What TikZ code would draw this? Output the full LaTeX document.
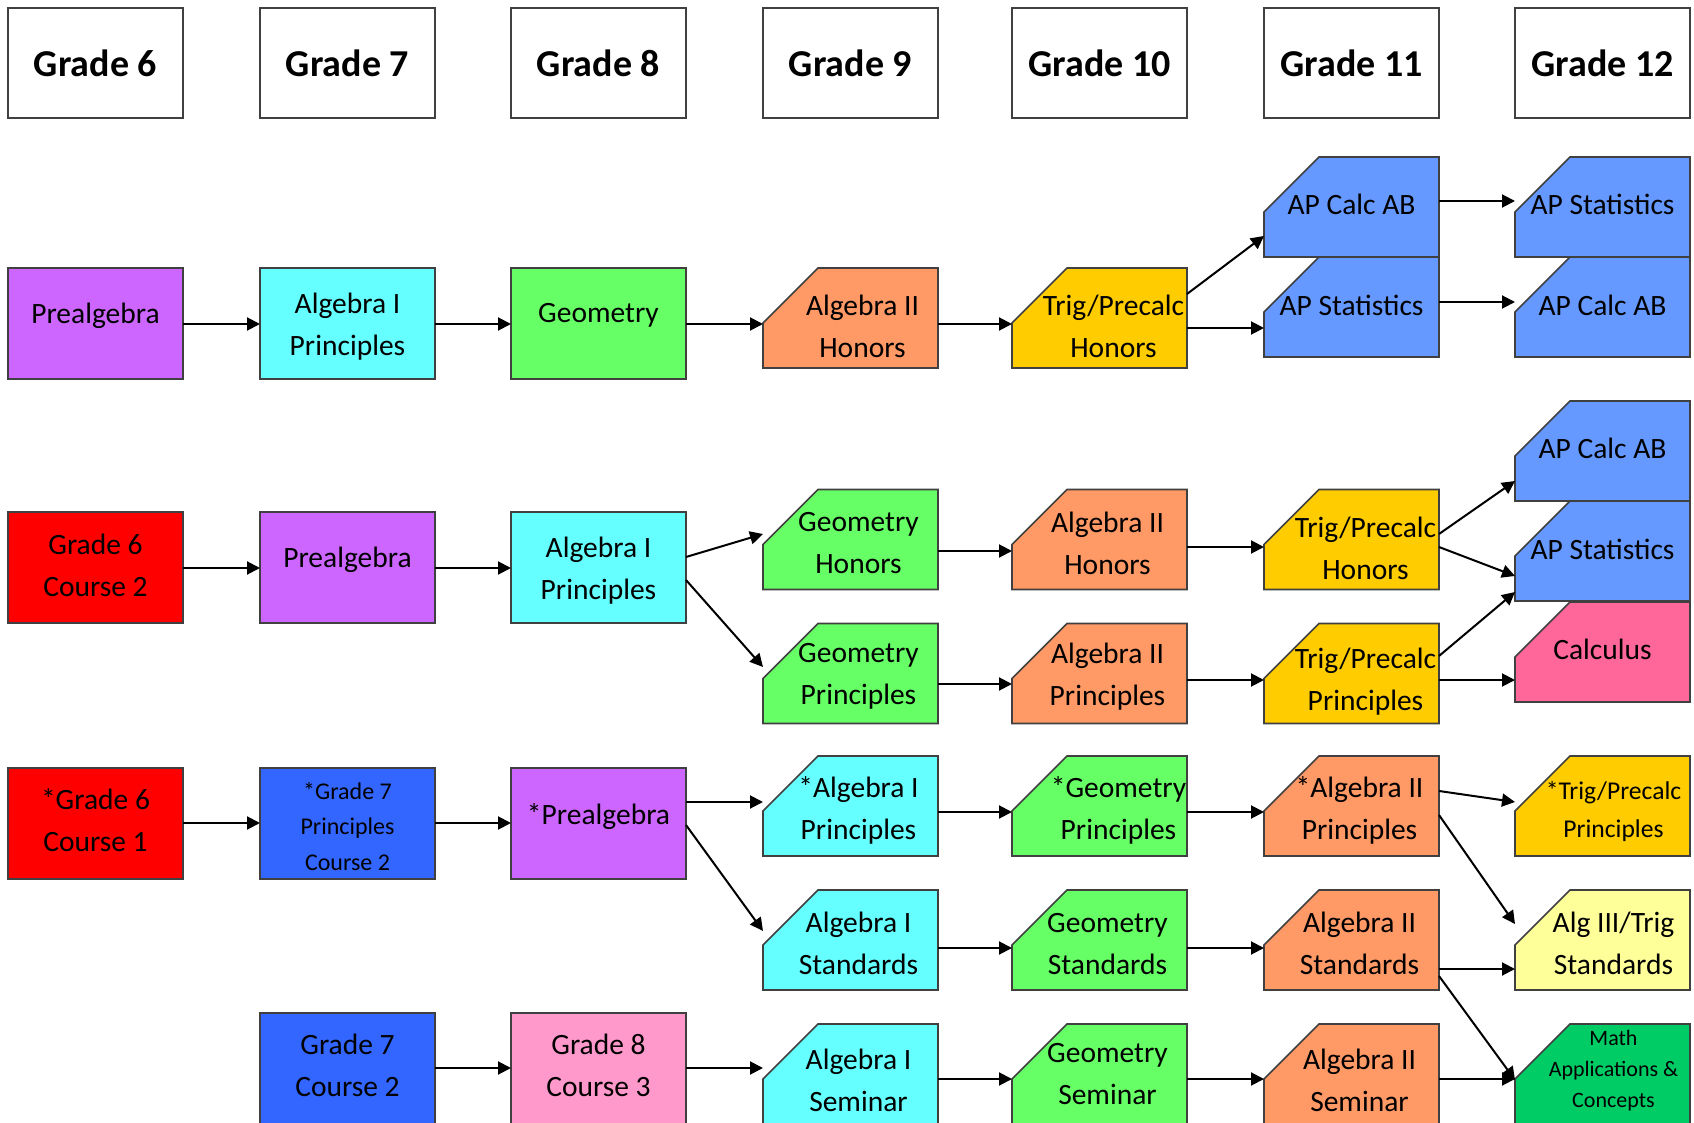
\documentclass[tikz,border=0pt]{standalone}
\usepackage{fontspec}
\setmainfont{Carlito}
\usetikzlibrary{arrows.meta,calc}
\definecolor{cPurple}{HTML}{CC66FF}
\definecolor{cCyan}{HTML}{66FFFF}
\definecolor{cGreen}{HTML}{66FF66}
\definecolor{cOrange}{HTML}{FF9966}
\definecolor{cYellow}{HTML}{FFCC00}
\definecolor{cAP}{HTML}{6699FF}
\definecolor{cRed}{HTML}{FF0000}
\definecolor{cBlue}{HTML}{3366FF}
\definecolor{cPink}{HTML}{FF6699}
\definecolor{cLtPink}{HTML}{FF99CC}
\definecolor{cLtYellow}{HTML}{FFFF99}
\definecolor{cMathGreen}{HTML}{00CC66}
\definecolor{cEdge}{HTML}{404040}
\tikzset{
  bxline/.style={draw=cEdge, line width=0.8pt},
  hdr/.style={rectangle, bxline, fill=white, anchor=north west, minimum width=87.5pt, minimum height=55pt, inner sep=0pt, outer sep=0pt, font=\fontsize{19pt}{23pt}\bfseries\selectfont},
  rbox/.style={rectangle, bxline, anchor=north west, minimum width=87.5pt, inner sep=0pt, outer sep=0pt},
  sbox/.style={rectangle, draw=none, anchor=north west, minimum width=87.5pt, minimum height=50pt, inner sep=0pt, outer sep=0pt},
  txt/.style={align=center, inner sep=0pt, font=\fontsize{14.75pt}{21pt}\selectfont},
  gsmall/.style={font=\fontsize{12pt}{17.8pt}\selectfont},
  trigsmall/.style={font=\fontsize{12.8pt}{19pt}\selectfont},
  macsmall/.style={font=\fontsize{11pt}{15.7pt}\selectfont},
  arr/.style={draw=black, line width=1pt, -{Triangle[length=6.5pt,width=6.5pt]}}
}
% [text style] name, x, y, height, colour, text y, text
\newcommand\rectbox[8][]{%
  \node[rbox, fill=#6, minimum height=#5] (#2) at (#3,#4) {};
  \node[txt,#1] (#2-t) at (#3+87.5,#7) {#8};}
% [text style] name, x, y, colour, text dx, text y, text
\newcommand\snipbox[8][]{%
  \node[sbox] (#2) at (#3,#4) {};
  \filldraw[bxline, fill=#5] (#2.north west) ++(0,55) -- ++(55,-55) -- (#2.north east) -- (#2.south east) -- (#2.south west) -- cycle;
  \node[txt,#1] (#2-t) at (#3+87.5+#6,#7) {#8};}
\begin{document}
\begin{tikzpicture}[x=0.5pt,y=-0.5pt]
\useasboundingbox (0,0) rectangle (1694,1123);
\fill[white] (0,0) rectangle (1694,1123);
\clip (0,0) rectangle (1694,1123);
% headers
\node[hdr] (h6) at (8,8) {Grade 6};
\node[hdr] (h7) at (260,8) {Grade 7};
\node[hdr] (h8) at (511,8) {Grade 8};
\node[hdr] (h9) at (763,8) {Grade 9};
\node[hdr] (h10) at (1012,8) {Grade 10};
\node[hdr] (h11) at (1264,8) {Grade 11};
\node[hdr] (h12) at (1515,8) {Grade 12};
% row A
\rectbox{preA}{8}{268}{55.5pt}{cPurple}{315.5}{Prealgebra}
\rectbox{algA}{260}{268}{55.5pt}{cCyan}{326.8}{Algebra I\\Principles}
\rectbox{geoA}{511}{268}{55.5pt}{cGreen}{315.5}{Geometry}
\snipbox{alg2hA}{763}{268}{cOrange}{12}{326.8}{Algebra II\\Honors}
\snipbox{trigA}{1012}{268}{cYellow}{14}{326.8}{Trig/Precalc\\Honors}
\snipbox{apcA6}{1264}{157}{cAP}{0}{204.2}{AP Calc AB}
\snipbox{apsA6}{1264}{257}{cAP}{0}{305.8}{AP Statistics}
\snipbox{apsA7}{1515}{157}{cAP}{0}{204.2}{AP Statistics}
\snipbox{apcA7}{1515}{257}{cAP}{0}{305.8}{AP Calc AB}
% row B
\rectbox{g6c2}{8}{512}{55.5pt}{cRed}{565}{Grade 6\\Course 2}
\rectbox{preB}{260}{512}{55.5pt}{cPurple}{559.7}{Prealgebra}
\rectbox{algB}{511}{512}{55.5pt}{cCyan}{571}{Algebra I\\Principles}
\snipbox{geohB}{763}{489.5}{cGreen}{8}{542.9}{Geometry\\Honors}
\snipbox{alg2hB}{1012}{489.5}{cOrange}{8}{542.9}{Algebra II\\Honors}
\snipbox{trighB}{1264}{489.5}{cYellow}{14}{548.8}{Trig/Precalc\\Honors}
\snipbox{apcB7}{1515}{401}{cAP}{0}{448.4}{AP Calc AB}
\snipbox{apsB7}{1515}{501}{cAP}{0}{549.9}{AP Statistics}
\snipbox{calc}{1515}{602}{cPink}{0}{649.3}{Calculus}
\snipbox{geopB}{763}{623.5}{cGreen}{8}{676.3}{Geometry\\Principles}
\snipbox{alg2pB}{1012}{623.5}{cOrange}{8}{676.3}{Algebra II\\Principles}
\snipbox{trigpB}{1264}{623.5}{cYellow}{14}{681.7}{Trig/Precalc\\Principles}
% row C
\rectbox{g6c1}{8}{768}{55.5pt}{cRed}{820}{*Grade 6\\Course 1}
\rectbox[gsmall]{g7p}{260}{768}{55.5pt}{cBlue}{826.5}{*Grade 7\\Principles\\Course 2}
\rectbox{preC}{511}{768}{55.5pt}{cPurple}{816.8}{*Prealgebra}
\snipbox{alg1pC}{763}{756}{cCyan}{8}{810.3}{*Algebra I\\Principles}
\snipbox{geopC}{1012}{756}{cGreen}{19}{810.3}{*Geometry\\Principles}
\snipbox{alg2pC}{1264}{756}{cOrange}{8}{810.3}{*Algebra II\\Principles}
\snipbox[trigsmall]{trigpC}{1515}{756}{cYellow}{11}{811.9}{*Trig/Precalc\\Principles}
\snipbox{alg1s}{763}{890}{cCyan}{8}{943.7}{Algebra I\\Standards}
\snipbox{geos}{1012}{890}{cGreen}{8}{943.7}{Geometry\\Standards}
\snipbox{alg2s}{1264}{890}{cOrange}{8}{943.7}{Algebra II\\Standards}
\snipbox{alg3}{1515}{890}{cLtYellow}{11}{943.7}{Alg III/Trig\\Standards}
% row D
\rectbox{g7c2}{260}{1013}{65pt}{cBlue}{1065.3}{Grade 7\\Course 2}
\rectbox{g8c3}{511}{1013}{65pt}{cLtPink}{1065.3}{Grade 8\\Course 3}
\snipbox{alg1sem}{763}{1024}{cCyan}{8}{1079.9}{Algebra I\\Seminar}
\snipbox{geosem}{1012}{1024}{cGreen}{8}{1074.5}{Geometry\\Seminar}
\snipbox{alg2sem}{1264}{1024}{cOrange}{8}{1079.9}{Algebra II\\Seminar}
\snipbox[macsmall]{mac}{1515}{1024}{cMathGreen}{11}{1070.7}{Math\\Applications \&\\Concepts}
% connectors row A
\draw[arr] (preA.east |- 0,324) -- (algA.west |- 0,324);
\draw[arr] (algA.east |- 0,324) -- (geoA.west |- 0,324);
\draw[arr] (geoA.east |- 0,324) -- (alg2hA.west |- 0,324);
\draw[arr] (alg2hA.east |- 0,324) -- (trigA.west |- 0,324);
\draw[arr] (trigA.east |- 0,294) -- (apcA6.west |- 0,236);
\draw[arr] (trigA.east |- 0,328) -- (apsA6.west |- 0,328);
\draw[arr] (apcA6.east |- 0,201) -- (apsA7.west |- 0,201);
\draw[arr] (apsA6.east |- 0,302) -- (apcA7.west |- 0,302);
% row B
\draw[arr] (g6c2.east |- 0,568) -- (preB.west |- 0,568);
\draw[arr] (preB.east |- 0,568) -- (algB.west |- 0,568);
\draw[arr] (algB.east |- 0,557) -- (geohB.west |- 0,534);
\draw[arr] (algB.east |- 0,580) -- (geopB.west |- 0,667);
\draw[arr] (geohB.east |- 0,551) -- (alg2hB.west |- 0,551);
\draw[arr] (alg2hB.east |- 0,547) -- (trighB.west |- 0,547);
\draw[arr] (geopB.east |- 0,684) -- (alg2pB.west |- 0,684);
\draw[arr] (alg2pB.east |- 0,680) -- (trigpB.west |- 0,680);
\draw[arr] (trighB.east |- 0,534) -- (apcB7.west |- 0,481);
\draw[arr] (trighB.east |- 0,547) -- (apsB7.west |- 0,576);
\draw[arr] (trigpB.east |- 0,656) -- (apsB7.west |- 0,592);
\draw[arr] (trigpB.east |- 0,680) -- (calc.west |- 0,680);
% row C
\draw[arr] (g6c1.east |- 0,823) -- (g7p.west |- 0,823);
\draw[arr] (g7p.east |- 0,823) -- (preC.west |- 0,823);
\draw[arr] (preC.east |- 0,802) -- (alg1pC.west |- 0,802);
\draw[arr] (preC.east |- 0,825) -- (alg1s.west |- 0,931);
\draw[arr] (alg1pC.east |- 0,812) -- (geopC.west |- 0,812);
\draw[arr] (geopC.east |- 0,812) -- (alg2pC.west |- 0,812);
\draw[arr] (alg2pC.east |- 0,791) -- (trigpC.west |- 0,802);
\draw[arr] (alg2pC.east |- 0,815) -- (alg3.west |- 0,924);
\draw[arr] (alg1s.east |- 0,948) -- (geos.west |- 0,948);
\draw[arr] (geos.east |- 0,948) -- (alg2s.west |- 0,948);
\draw[arr] (alg2s.east |- 0,969) -- (alg3.west |- 0,969);
\draw[arr] (alg2s.east |- 0,976) -- (mac.west |- 0,1080);
% row D
\draw[arr] (g7c2.east |- 0,1068) -- (g8c3.west |- 0,1068);
\draw[arr] (g8c3.east |- 0,1068) -- (alg1sem.west |- 0,1068);
\draw[arr] (alg1sem.east |- 0,1079) -- (geosem.west |- 0,1079);
\draw[arr] (geosem.east |- 0,1079) -- (alg2sem.west |- 0,1079);
\draw[arr] (alg2sem.east |- 0,1079) -- (mac.west |- 0,1079);
\end{tikzpicture}
\end{document}
